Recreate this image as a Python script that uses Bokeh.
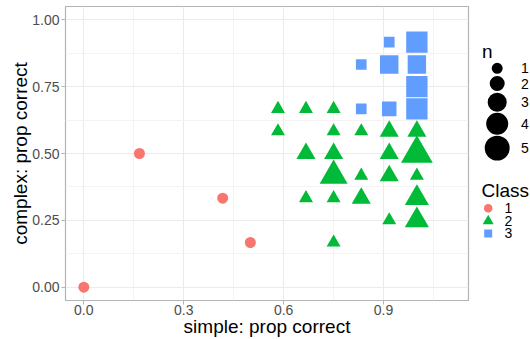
from bokeh.plotting import figure
from bokeh.models import Range1d, FixedTicker, ColumnDataSource
from bokeh.layouts import row
from bokeh.embed import file_html
from bokeh.resources import INLINE
from bokeh.core.properties import value

# ---------------- data ----------------
class1_x = [0.0, 0.167, 0.417, 0.5]
class1_y = [0.0, 0.5, 0.333, 0.167]
class1_n = [1, 1, 1, 1]

class2_x = [0.583, 0.667, 0.75,
            0.583, 0.75, 0.833, 0.917, 1.0,
            0.667, 0.75, 0.917, 1.0,
            0.75, 0.833, 0.917, 1.0,
            0.667, 0.75, 0.833, 1.0,
            0.917, 1.0,
            0.75]
class2_y = [0.667, 0.667, 0.667,
            0.583, 0.583, 0.583, 0.583, 0.583,
            0.5, 0.5, 0.5, 0.5,
            0.417, 0.417, 0.417, 0.417,
            0.333, 0.333, 0.333, 0.333,
            0.25, 0.25,
            0.167]
class2_n = [1, 1, 1,
            1, 1, 1, 2, 2,
            2, 2, 2, 5,
            4, 1, 2, 1,
            1, 1, 2, 3,
            1, 3,
            1]

class3_x = [0.917, 1.0, 0.833, 0.917, 1.0, 1.0, 0.833, 0.917, 1.0]
class3_y = [0.917, 0.917, 0.833, 0.833, 0.833, 0.75, 0.667, 0.667, 0.667]
class3_n = [1, 4, 1, 3, 3, 4, 1, 2, 4]

n_levels = [1, 2, 3, 4, 5]
class_labels = ["1", "2", "3"]

x_ticks = [0.0, 0.3, 0.6, 0.9]
x_tick_labels = ["0.0", "0.3", "0.6", "0.9"]
x_minor = [0.15, 0.45, 0.75, 1.05]
y_ticks = [0.0, 0.25, 0.5, 0.75, 1.0]
y_tick_labels = ["0.00", "0.25", "0.50", "0.75", "1.00"]
y_minor = [0.125, 0.375, 0.625, 0.875]

# ---------------- style ----------------
FONT_NAME = "Liberation Sans"
FONT = value(FONT_NAME)
COLORS = ["#F8766D", "#00BA38", "#619CFF"]
MARKERS = ["circle", "triangle", "square"]
SHAPE_SCALE = [1.0, 1.27, 0.97]
SIZE_PX = {1: 11, 2: 15, 3: 19, 4: 22, 5: 25}   # circle diameter per n
H = 339
MAIN_W = 470
LW = 60

p = figure(width=MAIN_W, height=H, x_range=Range1d(-0.055, 1.155), y_range=Range1d(-0.05, 1.05),
           output_backend="svg", toolbar_location=None,
           min_border_left=65, min_border_right=2, min_border_top=6, min_border_bottom=0)
p.background_fill_color = "white"
p.border_fill_color = "white"
p.outline_line_color = "#B3B3B3"
p.outline_line_width = 1.2

p.xaxis.ticker = FixedTicker(ticks=x_ticks, minor_ticks=x_minor)
p.yaxis.ticker = FixedTicker(ticks=y_ticks, minor_ticks=y_minor)
p.xaxis.major_label_overrides = {t: l for t, l in zip(x_ticks, x_tick_labels)}
p.yaxis.major_label_overrides = {t: l for t, l in zip(y_ticks, y_tick_labels)}

for ax in (p.xaxis, p.yaxis):
    ax.axis_line_color = None
    ax.major_tick_line_color = "#B3B3B3"
    ax.major_tick_line_width = 1
    ax.major_tick_in = 0
    ax.major_tick_out = 4
    ax.minor_tick_line_color = None
    ax.major_label_text_font = FONT_NAME
    ax.major_label_text_font_size = "14px"
    ax.major_label_text_color = "#4D4D4D"
    ax.axis_label_text_font = FONT_NAME
    ax.axis_label_text_font_size = "19px"
    ax.axis_label_text_font_style = "normal"
    ax.axis_label_text_color = "black"

p.xaxis.major_label_standoff = 0
p.xaxis.axis_label_standoff = -2
p.yaxis.major_label_standoff = 2
p.yaxis.axis_label_standoff = -2

p.xaxis.axis_label = "simple: prop correct"
p.yaxis.axis_label = "complex: prop correct"

for g in (p.xgrid, p.ygrid):
    g.grid_line_color = "#EBEBEB"
    g.grid_line_width = 1
    g.minor_grid_line_color = "#F3F3F3"
    g.minor_grid_line_width = 1

for xs, ys, ns, col, mk, sc in zip((class1_x, class2_x, class3_x),
                                   (class1_y, class2_y, class3_y),
                                   (class1_n, class2_n, class3_n),
                                   COLORS, MARKERS, SHAPE_SCALE):
    src = ColumnDataSource(dict(x=xs, y=ys, n=ns, s=[SIZE_PX[k] * sc for k in ns]))
    p.scatter("x", "y", size="s", source=src, marker=mk, fill_color=col, line_color=None)

# ---------------- legend panel ----------------
lg = figure(width=LW, height=H, x_range=Range1d(0, LW), y_range=Range1d(H, 0),
            output_backend="svg", toolbar_location=None,
            x_axis_location=None, y_axis_location=None,
            min_border=0, min_border_left=0, min_border_right=0,
            min_border_top=0, min_border_bottom=0)
lg.outline_line_color = None
lg.grid.visible = False
lg.background_fill_color = "white"
lg.border_fill_color = "white"

# size legend
sizes = [SIZE_PX[k] for k in n_levels]
ys = [71.3]
for i in range(1, len(sizes)):
    ys.append(ys[-1] + (sizes[i - 1] + sizes[i]) / 2 + 4.5)
lg.text(x=[11.5], y=[51.7], text=["n"], text_font=FONT, text_font_size="19px",
        text_baseline="alphabetic", text_align="left", text_color="black")
lg.scatter(x=[26.7] * len(sizes), y=ys, size=sizes, marker="circle", fill_color="black", line_color=None)
lg.text(x=[50.5] * len(sizes), y=ys, text=[str(k) for k in n_levels], text_font=FONT,
        text_font_size="14px", text_baseline="middle", text_align="left", text_color="black")

# class legend
lg.text(x=[11], y=[212.7], text=["Class"], text_font=FONT, text_font_size="19px",
        text_baseline="alphabetic", text_align="left", text_color="black")
cys = [232.7, 247.4, 261.7]
key_sizes = [8.5, 11, 8]
for cy, col, mk, ks in zip(cys, COLORS, MARKERS, key_sizes):
    lg.scatter(x=[17.7], y=[cy], size=ks, marker=mk, fill_color=col, line_color=None)
lg.text(x=[34] * 3, y=cys, text=class_labels, text_font=FONT, text_font_size="14px",
        text_baseline="middle", text_align="left", text_color="black")

layout = row(p, lg)
open("out.html", "w").write(file_html(layout, INLINE))
